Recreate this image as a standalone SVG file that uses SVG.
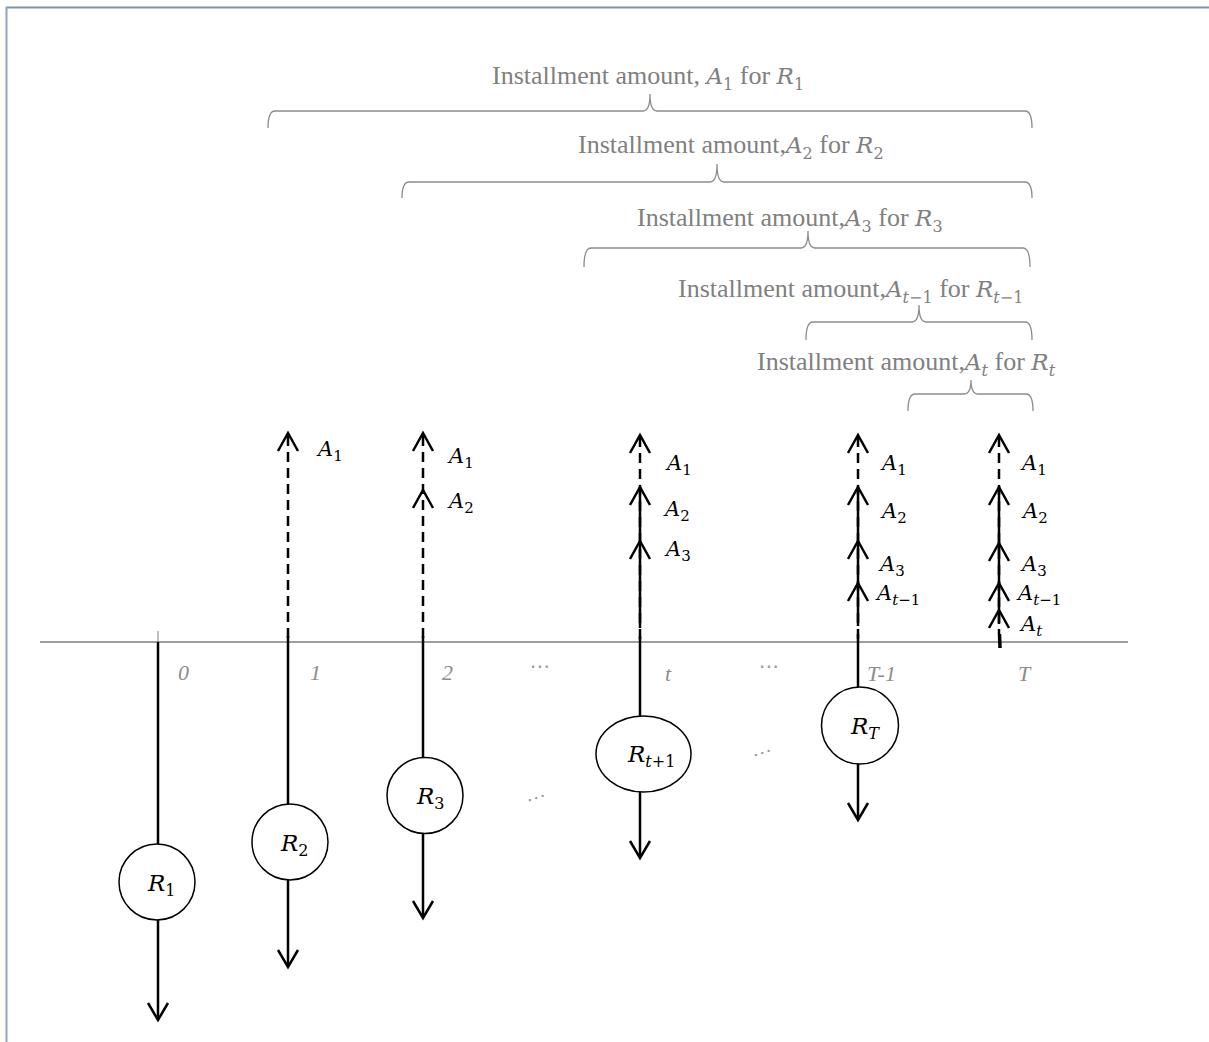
<svg xmlns="http://www.w3.org/2000/svg" xmlns:xlink="http://www.w3.org/1999/xlink" width="1209" height="1042" viewBox="0 0 1209 1042">
<style>
.brace{fill:none;stroke:#8c8c8c;stroke-width:1.3}
.lbl{font-family:"Liberation Serif",serif;font-size:26px;fill:#808080}
.mt{font-family:"DejaVu Serif",serif;font-style:italic;font-size:23px}
.sb{font-family:"DejaVu Serif",serif;font-size:16px;font-style:normal}
.it,.sb.it{font-style:italic}
.ax{font-family:"Liberation Serif",serif;font-style:italic;font-size:22px;fill:#8c8c8c}
.dots{font-family:"Liberation Serif","DejaVu Sans",serif;font-size:20px;fill:#9a9a9a}
.ln{stroke:#000;stroke-width:2.5;fill:none}
.dash{stroke-dasharray:10 6}
.hd{fill:none;stroke:#000;stroke-width:2.5;stroke-linejoin:miter}
.node ellipse{fill:#fff;stroke:#000;stroke-width:1.5}
.ml{font-family:"DejaVu Serif",serif;font-style:italic;font-size:21px;fill:#000}
.ml .sb{font-size:15px}
.nl{font-family:"DejaVu Serif",serif;font-style:italic;font-size:23px;fill:#000}
.nl .sb{font-size:16px}
</style>
<defs>
<path id="hu" class="hd" d="M-10,18 L0,0 L10,18"/>
<path id="hdn" class="hd" d="M-10,-17 L0,0 L10,-17"/>
</defs>
<rect width="1209" height="1042" fill="#fff"/>
<g id="frame" fill="none" stroke="#8fa3c2" stroke-width="2">
<line x1="6" y1="7.5" x2="1209" y2="7.5" stroke="#7f93b0"/>
<line x1="6.5" y1="7" x2="6.5" y2="1042"/>
</g>
<g id="braces">
<g id="brace1">
<text class="lbl" x="492" y="84">Installment amount, <tspan class="mt">A</tspan><tspan class="sb" dy="6">1</tspan><tspan dy="-6"> for </tspan><tspan class="mt">R</tspan><tspan class="sb" dy="6">1</tspan></text>
<path class="brace" d="M268,128 Q268,111 275,111 L643,111 Q650,111 650,94 Q650,111 657,111 L1025,111 Q1032,111 1032,128"/>
</g>
<g id="brace2">
<text class="lbl" x="578" y="153">Installment amount,<tspan class="mt">A</tspan><tspan class="sb" dy="6">2</tspan><tspan dy="-6"> for </tspan><tspan class="mt">R</tspan><tspan class="sb" dy="6">2</tspan></text>
<path class="brace" d="M402,198 Q402,182 409,182 L710,182 Q717,182 717,164 Q717,182 724,182 L1025,182 Q1032,182 1032,198"/>
</g>
<g id="brace3">
<text class="lbl" x="637" y="226">Installment amount,<tspan class="mt">A</tspan><tspan class="sb" dy="6">3</tspan><tspan dy="-6"> for </tspan><tspan class="mt">R</tspan><tspan class="sb" dy="6">3</tspan></text>
<path class="brace" d="M584,267 Q584,248 591,248 L801,248 Q808,248 808,231 Q808,248 815,248 L1023,248 Q1030,248 1030,267"/>
</g>
<g id="brace4">
<text class="lbl" x="678" y="297">Installment amount,<tspan class="mt">A</tspan><tspan class="sb" dy="6"><tspan class="it">t</tspan>−1</tspan><tspan dy="-6"> for </tspan><tspan class="mt">R</tspan><tspan class="sb" dy="6"><tspan class="it">t</tspan>−1</tspan></text>
<path class="brace" d="M806,340 Q806,322 813,322 L912,322 Q919,322 919,305 Q919,322 926,322 L1025,322 Q1032,322 1032,340"/>
</g>
<g id="brace5">
<text class="lbl" x="757" y="370">Installment amount,<tspan class="mt">A</tspan><tspan class="sb it" dy="6">t</tspan><tspan dy="-6"> for </tspan><tspan class="mt">R</tspan><tspan class="sb it" dy="6">t</tspan></text>
<path class="brace" d="M908,411 Q908,394 915,394 L964,394 Q971,394 971,380 Q971,394 978,394 L1026,394 Q1033,394 1033,411"/>
</g>
</g>
<g id="axis">
<line x1="40" y1="642" x2="1128" y2="642" stroke="#7f7f7f" stroke-width="1.5"/>
<text class="ax" x="178" y="680">0</text>
<text class="ax" x="310" y="680">1</text>
<text class="ax" x="442" y="680">2</text>
<text class="ax" x="665" y="681">t</text>
<text class="ax" x="867" y="681">T-1</text>
<text class="ax" x="1018" y="681">T</text>
<text class="dots" x="530" y="673">⋯</text>
<text class="dots" x="759" y="673">⋯</text>
<text class="dots" x="0" y="0" transform="translate(527,802) rotate(-18)">…</text>
<text class="dots" x="0" y="0" transform="translate(753,757) rotate(-18)">…</text>
</g>
<g id="connectors">
<line x1="158" y1="631" x2="158" y2="642" stroke="#808080" stroke-width="1"/>
<line class="ln" x1="158" y1="642" x2="158" y2="1019"/>
<use xlink:href="#hdn" x="158" y="1020"/>
<line class="ln dash" x1="288" y1="436" x2="288" y2="642"/>
<line class="ln" x1="288" y1="636" x2="288" y2="966"/>
<use xlink:href="#hu" x="288" y="433"/>
<use xlink:href="#hdn" x="288" y="967"/>
<line class="ln dash" x1="423" y1="436" x2="423" y2="642"/>
<line class="ln" x1="423" y1="636" x2="423" y2="917"/>
<use xlink:href="#hu" x="423" y="433"/>
<use xlink:href="#hu" x="423" y="490"/>
<use xlink:href="#hdn" x="423" y="918"/>
<line class="ln dash" x1="640" y1="437" x2="640" y2="642"/>
<line class="ln" x1="640" y1="488" x2="640" y2="628"/>
<line class="ln" x1="640" y1="636" x2="640" y2="857"/>
<use xlink:href="#hu" x="640" y="435"/>
<use xlink:href="#hu" x="640" y="487"/>
<use xlink:href="#hu" x="640" y="541"/>
<use xlink:href="#hdn" x="640" y="858"/>
<line class="ln dash" x1="858" y1="437" x2="858" y2="642"/>
<line class="ln" x1="858" y1="488" x2="858" y2="626"/>
<line class="ln" x1="858" y1="634" x2="858" y2="819"/>
<use xlink:href="#hu" x="858" y="435"/>
<use xlink:href="#hu" x="858" y="487"/>
<use xlink:href="#hu" x="858" y="541"/>
<use xlink:href="#hu" x="858" y="583"/>
<use xlink:href="#hdn" x="858" y="820"/>
<line class="ln dash" x1="999" y1="437" x2="999" y2="634"/>
<line class="ln" x1="999" y1="488" x2="999" y2="624"/>
<line x1="999.5" y1="634" x2="1000" y2="648" stroke="#000" stroke-width="3.5"/>
<use xlink:href="#hu" x="999" y="435"/>
<use xlink:href="#hu" x="999" y="487"/>
<use xlink:href="#hu" x="999" y="543"/>
<use xlink:href="#hu" x="999" y="583"/>
<use xlink:href="#hu" x="999" y="610"/>
</g>
<g id="amounts">
<text class="ml" x="318" y="456">A<tspan class="sb" dy="5">1</tspan></text>
<text class="ml" x="449" y="463">A<tspan class="sb" dy="5">1</tspan></text>
<text class="ml" x="449" y="508">A<tspan class="sb" dy="5">2</tspan></text>
<text class="ml" x="667" y="470">A<tspan class="sb" dy="5">1</tspan></text>
<text class="ml" x="665" y="516">A<tspan class="sb" dy="5">2</tspan></text>
<text class="ml" x="666" y="556">A<tspan class="sb" dy="5">3</tspan></text>
<text class="ml" x="882" y="470">A<tspan class="sb" dy="5">1</tspan></text>
<text class="ml" x="882" y="518">A<tspan class="sb" dy="5">2</tspan></text>
<text class="ml" x="880" y="571">A<tspan class="sb" dy="5">3</tspan></text>
<text class="ml" x="877" y="600">A<tspan class="sb" dy="5"><tspan class="it">t</tspan>−1</tspan></text>
<text class="ml" x="1022" y="470">A<tspan class="sb" dy="5">1</tspan></text>
<text class="ml" x="1023" y="518">A<tspan class="sb" dy="5">2</tspan></text>
<text class="ml" x="1022" y="571">A<tspan class="sb" dy="5">3</tspan></text>
<text class="ml" x="1018" y="600">A<tspan class="sb" dy="5"><tspan class="it">t</tspan>−1</tspan></text>
<text class="ml" x="1021" y="631">A<tspan class="sb it" dy="5">t</tspan></text>
</g>
<g id="R1" class="node">
<ellipse cx="157" cy="882" rx="38" ry="38"/>
<text class="nl" x="148" y="891">R<tspan class="sb" dy="5">1</tspan></text>
</g>
<g id="R2" class="node">
<ellipse cx="290" cy="842" rx="38" ry="38"/>
<text class="nl" x="281" y="851">R<tspan class="sb" dy="5">2</tspan></text>
</g>
<g id="R3" class="node">
<ellipse cx="425" cy="795.5" rx="38" ry="38"/>
<text class="nl" x="417" y="804">R<tspan class="sb" dy="5">3</tspan></text>
</g>
<g id="Rt1" class="node">
<ellipse cx="643.5" cy="754" rx="47.5" ry="38"/>
<text class="nl" x="628" y="762">R<tspan class="sb" dy="5"><tspan class="it">t</tspan>+1</tspan></text>
</g>
<g id="RT" class="node">
<ellipse cx="860" cy="725.5" rx="38.5" ry="38.5"/>
<text class="nl" x="851" y="734">R<tspan class="sb it" dy="5">T</tspan></text>
</g>
</svg>
